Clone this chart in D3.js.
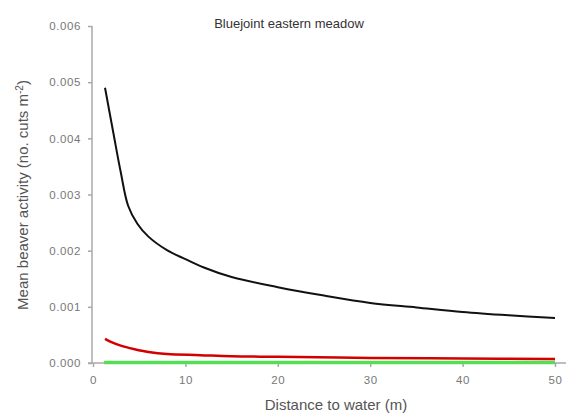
<!DOCTYPE html>
<html><head><meta charset="utf-8">
<script src="https://cdn.jsdelivr.net/npm/d3@7"></script>
<style>body{margin:0;background:#fff}svg{display:block}</style>
</head><body>
<svg id="c" width="576" height="420"></svg>
<script>
const title = "Bluejoint eastern meadow";
const xLabel = "Distance to water (m)";
const xTicks = [0, 10, 20, 30, 40, 50];
const yTicks = [0, 0.001, 0.002, 0.003, 0.004, 0.005, 0.006];

const blackX = [1.3, 2.2, 3.0, 3.8, 4.8, 6, 8, 10, 12, 15, 20, 25, 30, 35, 40, 45, 50];
const blackY = [0.0049, 0.0041, 0.0034, 0.0028, 0.00248, 0.00225, 0.00201, 0.00185, 0.0017, 0.00153, 0.00135, 0.0012, 0.00107, 0.00099, 0.00091, 0.00085, 0.0008];
const redX = [1.3, 2, 3, 4.4, 6.2, 8, 11.6, 15, 20, 30, 40, 50];
const redY = [0.00043, 0.00037, 0.00031, 0.00025, 0.00019, 0.00016, 0.00014, 0.00012, 0.00011, 0.00009, 0.00008, 0.00007];
const greenX = [1.2, 50];
const greenY = [0.00001, 0.00001];

const svg = d3.select("#c");
const x = d3.scaleLinear().domain([0, 50]).range([93, 555]);
const y = d3.scaleLinear().domain([0, 0.006]).range([363, 26]);
const axisColor = "#a8a8a8";
const textColor = "#777";
const font = "Liberation Sans, Arial, sans-serif";

// Y axis
const ya = svg.append("g").attr("transform", "translate(92,0)")
  .call(d3.axisLeft(y).tickValues(yTicks).tickFormat(d3.format(".3f")).tickSize(4).tickPadding(7));
ya.select(".domain").attr("stroke", axisColor).attr("stroke-width", 1.5).attr("d", "M0,26V363");
ya.selectAll(".tick line").attr("stroke", axisColor).attr("stroke-width", 1.5);
ya.selectAll(".tick text").attr("fill", textColor).style("font-family", font).style("font-size", "11.5px").style("letter-spacing", "0.6px");

// X axis
const xa = svg.append("g").attr("transform", "translate(0,363)")
  .call(d3.axisBottom(x).tickValues(xTicks).tickSize(4).tickPadding(9));
xa.select(".domain").attr("stroke", axisColor).attr("stroke-width", 1.5).attr("d", "M88,0H566");
xa.selectAll(".tick line").attr("stroke", axisColor).attr("stroke-width", 1.5);
xa.selectAll(".tick text").attr("fill", textColor).style("font-family", font).style("font-size", "11.5px").style("letter-spacing", "0.6px");

const line = d3.line().curve(d3.curveCatmullRom.alpha(0.5)).x(d => x(d[0])).y(d => y(d[1]));
svg.append("path").datum(greenX.map((v, i) => [v, greenY[i]]))
  .attr("d", line).attr("fill", "none").attr("stroke", "#55dd55").attr("stroke-width", 3.5);
svg.append("path").datum(redX.map((v, i) => [v, redY[i]]))
  .attr("d", line).attr("fill", "none").attr("stroke", "#d40000").attr("stroke-width", 2.5);
svg.append("path").datum(blackX.map((v, i) => [v, blackY[i]]))
  .attr("d", line).attr("fill", "none").attr("stroke", "#111").attr("stroke-width", 2);

// Titles
svg.append("text").attr("x", 289).attr("y", 28).attr("text-anchor", "middle")
  .style("font-family", font).style("font-size", "13px").attr("fill", "#333").text(title);
svg.append("text").attr("x", 336).attr("y", 410).attr("text-anchor", "middle")
  .style("font-family", font).style("font-size", "15px").attr("fill", "#555").text(xLabel);
const yt = svg.append("text").attr("transform", "translate(28,195) rotate(-90)").attr("text-anchor", "middle")
  .style("font-family", font).style("font-size", "15px").attr("fill", "#555");
yt.append("tspan").text("Mean beaver activity (no. cuts m");
yt.append("tspan").attr("dy", -5).style("font-size", "10px").text("-2");
yt.append("tspan").attr("dy", 5).text(")");
</script>
</body></html>
